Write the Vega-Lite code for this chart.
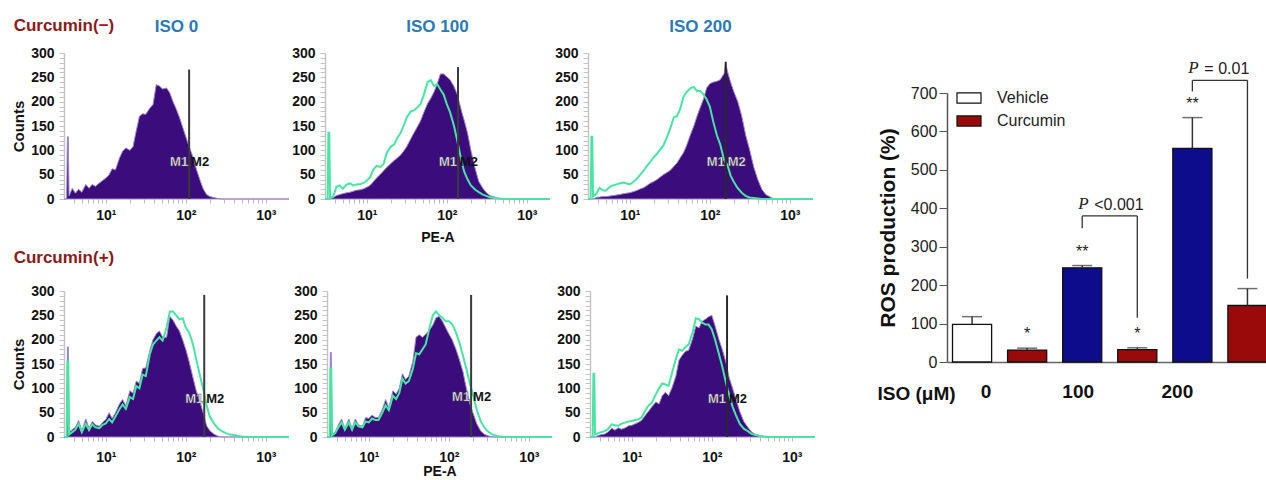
{
"$schema": "https://vega.github.io/schema/vega-lite/v6.json",
"padding": {"left": 11, "top": 17, "right": 0, "bottom": 0},
"config": {"font": "Liberation Sans", "view": {"stroke": null}, "axis": {"grid": false}, "title": {"font": "Liberation Sans"}},
"datasets": {
"hist": [
{"pe":3.02,"T1p":0,"T2p":0,"T2g":0,"T3p":0,"T3g":0,"B1p":0,"B1g":0,"B2p":0,"B2g":0,"B3p":0,"B3g":0},
{"pe":3.24,"T1p":0,"T2p":0,"T2g":0,"T3p":0,"T3g":0,"B1p":0,"B1g":0,"B2p":0,"B2g":0,"B3p":0,"B3g":0},
{"pe":3.31,"T1p":128,"T2p":0,"T2g":136,"T3p":0,"T3g":128,"B1p":185,"B1g":155,"B2p":174,"B2g":141,"B3p":0,"B3g":130},
{"pe":3.39,"T1p":128,"T2p":0,"T2g":136,"T3p":0,"T3g":128,"B1p":185,"B1g":155,"B2p":174,"B2g":141,"B3p":0,"B3g":130},
{"pe":3.47,"T1p":6,"T2p":0,"T2g":2,"T3p":0,"T3g":5,"B1p":10,"B1g":5,"B2p":5,"B2g":3,"B3p":0,"B3g":5},
{"pe":3.80,"T1p":22,"T2p":3,"T2g":5,"T3p":3,"T3g":10,"B1p":15,"B1g":10,"B2p":10,"B2g":8,"B3p":3,"B3g":8},
{"pe":4.17,"T1p":12,"T2p":7,"T2g":25,"T3p":4,"T3g":23,"B1p":20,"B1g":15,"B2p":25,"B2g":20,"B3p":5,"B3g":10},
{"pe":4.57,"T1p":20,"T2p":9,"T2g":28,"T3p":5,"T3g":18,"B1p":34,"B1g":27,"B2p":37,"B2g":30,"B3p":6,"B3g":12},
{"pe":5.01,"T1p":14,"T2p":11,"T2g":21,"T3p":5,"T3g":17,"B1p":13,"B1g":10,"B2p":17,"B2g":15,"B3p":10,"B3g":16},
{"pe":5.62,"T1p":30,"T2p":13,"T2g":30,"T3p":6,"T3g":25,"B1p":37,"B1g":27,"B2p":37,"B2g":30,"B3p":18,"B3g":26},
{"pe":6.17,"T1p":22,"T2p":14,"T2g":32,"T3p":7,"T3g":28,"B1p":18,"B1g":14,"B2p":17,"B2g":15,"B3p":14,"B3g":24},
{"pe":6.76,"T1p":30,"T2p":16,"T2g":28,"T3p":8,"T3g":30,"B1p":32,"B1g":26,"B2p":37,"B2g":30,"B3p":19,"B3g":23},
{"pe":7.41,"T1p":26,"T2p":18,"T2g":30,"T3p":9,"T3g":32,"B1p":25,"B1g":20,"B2p":25,"B2g":22,"B3p":16,"B3g":27},
{"pe":8.32,"T1p":33,"T2p":19,"T2g":31,"T3p":11,"T3g":34,"B1p":22,"B1g":18,"B2p":22,"B2g":20,"B3p":19,"B3g":30},
{"pe":9.12,"T1p":38,"T2p":21,"T2g":33,"T3p":12,"T3g":32,"B1p":30,"B1g":25,"B2p":40,"B2g":32,"B3p":23,"B3g":32},
{"pe":10,"T1p":43,"T2p":24,"T2g":38,"T3p":13,"T3g":30,"B1p":36,"B1g":28,"B2p":38,"B2g":30,"B3p":24,"B3g":33},
{"pe":11,"T1p":50,"T2p":28,"T2g":45,"T3p":15,"T3g":35,"B1p":50,"B1g":37,"B2p":45,"B2g":38,"B3p":27,"B3g":35},
{"pe":12,"T1p":62,"T2p":35,"T2g":60,"T3p":17,"T3g":40,"B1p":38,"B1g":30,"B2p":40,"B2g":35,"B3p":30,"B3g":36},
{"pe":13.2,"T1p":60,"T2p":43,"T2g":68,"T3p":20,"T3g":48,"B1p":50,"B1g":42,"B2p":40,"B2g":35,"B3p":34,"B3g":40},
{"pe":14.8,"T1p":84,"T2p":51,"T2g":66,"T3p":23,"T3g":58,"B1p":68,"B1g":57,"B2p":57,"B2g":50,"B3p":45,"B3g":55},
{"pe":16.2,"T1p":98,"T2p":58,"T2g":72,"T3p":27,"T3g":67,"B1p":77,"B1g":67,"B2p":77,"B2g":65,"B3p":53,"B3g":65},
{"pe":17.8,"T1p":105,"T2p":65,"T2g":95,"T3p":32,"T3g":75,"B1p":64,"B1g":58,"B2p":60,"B2g":55,"B3p":62,"B3g":70},
{"pe":20,"T1p":100,"T2p":73,"T2g":108,"T3p":36,"T3g":86,"B1p":95,"B1g":82,"B2p":95,"B2g":85,"B3p":72,"B3g":88},
{"pe":21.9,"T1p":108,"T2p":79,"T2g":112,"T3p":40,"T3g":93,"B1p":90,"B1g":78,"B2p":88,"B2g":78,"B3p":68,"B3g":100},
{"pe":24,"T1p":140,"T2p":84,"T2g":125,"T3p":45,"T3g":102,"B1p":115,"B1g":105,"B2p":100,"B2g":90,"B3p":85,"B3g":110},
{"pe":26.3,"T1p":170,"T2p":90,"T2g":135,"T3p":50,"T3g":110,"B1p":110,"B1g":100,"B2p":130,"B2g":120,"B3p":92,"B3g":108},
{"pe":28.8,"T1p":175,"T2p":98,"T2g":150,"T3p":54,"T3g":125,"B1p":141,"B1g":128,"B2p":118,"B2g":110,"B3p":85,"B3g":105},
{"pe":31.6,"T1p":174,"T2p":108,"T2g":168,"T3p":58,"T3g":142,"B1p":142,"B1g":125,"B2p":125,"B2g":115,"B3p":100,"B3g":130},
{"pe":35.5,"T1p":187,"T2p":124,"T2g":180,"T3p":67,"T3g":168,"B1p":178,"B1g":170,"B2p":155,"B2g":140,"B3p":125,"B3g":160},
{"pe":38.9,"T1p":194,"T2p":136,"T2g":182,"T3p":74,"T3g":170,"B1p":200,"B1g":190,"B2p":205,"B2g":172,"B3p":158,"B3g":180},
{"pe":42.7,"T1p":235,"T2p":148,"T2g":188,"T3p":85,"T3g":185,"B1p":212,"B1g":198,"B2p":210,"B2g":170,"B3p":168,"B3g":177},
{"pe":46.8,"T1p":232,"T2p":160,"T2g":195,"T3p":95,"T3g":210,"B1p":218,"B1g":205,"B2p":205,"B2g":180,"B3p":176,"B3g":185},
{"pe":51.3,"T1p":226,"T2p":177,"T2g":213,"T3p":110,"T3g":220,"B1p":205,"B1g":198,"B2p":211,"B2g":190,"B3p":178,"B3g":190},
{"pe":57.5,"T1p":228,"T2p":196,"T2g":240,"T3p":133,"T3g":228,"B1p":205,"B1g":225,"B2p":220,"B2g":225,"B3p":202,"B3g":215},
{"pe":63.1,"T1p":218,"T2p":207,"T2g":244,"T3p":150,"T3g":230,"B1p":248,"B1g":258,"B2p":230,"B2g":250,"B3p":228,"B3g":244},
{"pe":69.2,"T1p":200,"T2p":220,"T2g":232,"T3p":170,"T3g":222,"B1p":240,"B1g":258,"B2p":245,"B2g":258,"B3p":224,"B3g":242},
{"pe":75.9,"T1p":185,"T2p":237,"T2g":236,"T3p":188,"T3g":222,"B1p":228,"B1g":250,"B2p":248,"B2g":250,"B3p":238,"B3g":235},
{"pe":83.2,"T1p":168,"T2p":257,"T2g":225,"T3p":205,"T3g":215,"B1p":218,"B1g":242,"B2p":238,"B2g":245,"B3p":242,"B3g":231},
{"pe":91.2,"T1p":148,"T2p":257,"T2g":215,"T3p":228,"T3g":205,"B1p":200,"B1g":244,"B2p":225,"B2g":238,"B3p":247,"B3g":231},
{"pe":100,"T1p":128,"T2p":251,"T2g":195,"T3p":237,"T3g":190,"B1p":180,"B1g":225,"B2p":212,"B2g":238,"B3p":250,"B3g":221},
{"pe":110,"T1p":108,"T2p":245,"T2g":178,"T3p":240,"T3g":160,"B1p":155,"B1g":215,"B2p":200,"B2g":232,"B3p":228,"B3g":200},
{"pe":123,"T1p":86,"T2p":231,"T2g":150,"T3p":242,"T3g":130,"B1p":122,"B1g":190,"B2p":180,"B2g":215,"B3p":200,"B3g":170},
{"pe":135,"T1p":62,"T2p":215,"T2g":120,"T3p":245,"T3g":112,"B1p":95,"B1g":160,"B2p":160,"B2g":195,"B3p":180,"B3g":145},
{"pe":151,"T1p":38,"T2p":184,"T2g":82,"T3p":258,"T3g":80,"B1p":72,"B1g":125,"B2p":133,"B2g":166,"B3p":152,"B3g":110},
{"pe":158,"T1p":29,"T2p":172,"T2g":68,"T3p":280,"T3g":75,"B1p":60,"B1g":111,"B2p":116,"B2g":153,"B3p":136,"B3g":97},
{"pe":166,"T1p":20,"T2p":160,"T2g":55,"T3p":262,"T3g":70,"B1p":48,"B1g":97,"B2p":100,"B2g":140,"B3p":120,"B3g":85},
{"pe":182,"T1p":9,"T2p":135,"T2g":40,"T3p":240,"T3g":48,"B1p":23,"B1g":64,"B2p":70,"B2g":112,"B3p":100,"B3g":62},
{"pe":200,"T1p":5,"T2p":100,"T2g":28,"T3p":220,"T3g":35,"B1p":13,"B1g":42,"B2p":50,"B2g":88,"B3p":78,"B3g":45},
{"pe":224,"T1p":3,"T2p":65,"T2g":20,"T3p":200,"T3g":22,"B1p":6,"B1g":28,"B2p":27,"B2g":55,"B3p":52,"B3g":27},
{"pe":251,"T1p":1,"T2p":36,"T2g":14,"T3p":170,"T3g":13,"B1p":2,"B1g":18,"B2p":12,"B2g":32,"B3p":32,"B3g":17},
{"pe":282,"T1p":0,"T2p":22,"T2g":9,"T3p":130,"T3g":6,"B1p":0,"B1g":12,"B2p":5,"B2g":18,"B3p":20,"B3g":12},
{"pe":316,"T1p":0,"T2p":12,"T2g":6,"T3p":100,"T3g":3,"B1p":0,"B1g":8,"B2p":2,"B2g":10,"B3p":10,"B3g":6},
{"pe":355,"T1p":0,"T2p":6,"T2g":3,"T3p":65,"T3g":2,"B1p":0,"B1g":5,"B2p":0,"B2g":5,"B3p":5,"B3g":4},
{"pe":398,"T1p":0,"T2p":4,"T2g":2,"T3p":40,"T3g":1,"B1p":0,"B1g":4,"B2p":0,"B2g":2,"B3p":3,"B3g":2},
{"pe":447,"T1p":0,"T2p":1,"T2g":1,"T3p":20,"T3g":0,"B1p":0,"B1g":2,"B2p":0,"B2g":1,"B3p":1,"B3g":1},
{"pe":501,"T1p":0,"T2p":0,"T2g":0,"T3p":9,"T3g":0,"B1p":0,"B1g":1,"B2p":0,"B2g":0,"B3p":0,"B3g":0},
{"pe":631,"T1p":0,"T2p":0,"T2g":0,"T3p":0,"T3g":0,"B1p":0,"B1g":0,"B2p":0,"B2g":0,"B3p":0,"B3g":0},
{"pe":1950,"T1p":0,"T2p":0,"T2g":0,"T3p":0,"T3g":0,"B1p":0,"B1g":0,"B2p":0,"B2g":0,"B3p":0,"B3g":0}
],
"gates": [
{"panel":"T1","gate":110,"top":266,"labelY":76},
{"panel":"T2","gate":138,"top":271,"labelY":76},
{"panel":"T3","gate":158,"top":282,"labelY":76},
{"panel":"B1","gate":170,"top":292,"labelY":78},
{"panel":"B2","gate":190,"top":292,"labelY":82},
{"panel":"B3","gate":155,"top":291,"labelY":78}
],
"bars": [
{"id":"V0","iso":"0","key":"Vehicle","mean":98,"err":118,"star":""},
{"id":"C0","iso":"0","key":"Curcumin","mean":31,"err":36,"star":"*"},
{"id":"V100","iso":"100","key":"Vehicle + ISO","mean":245,"err":251,"star":"**"},
{"id":"C100","iso":"100","key":"Curcumin","mean":32,"err":37,"star":"*"},
{"id":"V200","iso":"200","key":"Vehicle + ISO","mean":556,"err":636,"star":"**"},
{"id":"C200","iso":"200","key":"Curcumin","mean":147,"err":191,"star":""}
],
"brackets": [
{"from":"V100","to":"C100","fromY":348,"toY":115,"top":380,"label":"<0.001"},
{"from":"V200","to":"C200","fromY":704,"toY":217,"top":733,"label":"= 0.01"}
]
},
"hconcat": [
{
"vconcat": [
{
"title": {"text": "Curcumin(−)", "anchor": "start", "dx": 2, "color": "#8b1a1a", "fontSize": 17, "fontWeight": "bold", "offset": -17},
"spacing": 0,
"hconcat": [
{"width": 225, "height": 146,
 "title": {"text": "ISO  0", "frame": "group", "color": "#2a7ab8", "fontSize": 17, "fontWeight": "bold", "offset": 10},
 "resolve": {"axis": {"x": "independent", "y": "independent"}},
 "layer": [
  {"data": {"name": "hist"}, "mark": {"type": "area", "color": "#3b0d7c", "stroke": "#9e86cc", "strokeWidth": 1},
   "encoding": {
    "x": {"field": "pe", "type": "quantitative", "scale": {"type": "log", "domain": [3, 1950], "nice": false},
          "axis": {"values": [4,5,6,7,8,9,10,20,30,40,50,60,70,80,90,100,200,300,400,500,600,700,800,900,1000], "labelExpr": "datum.value==10?'10¹':datum.value==100?'10²':datum.value==1000?'10³':''", "domain": false, "tickSize": 4, "tickColor": "#bbbbbb", "labelFontSize": 14, "labelFontWeight": "bold", "labelColor": "#111", "labelPadding": 5, "labelOverlap": false, "labelBound": false, "labelFlush": false, "title": null}},
    "y": {"field": "T1p", "type": "quantitative", "scale": {"domain": [0, 300], "nice": false},
          "axis": {"values": [0,10,20,30,40,50,60,70,80,90,100,110,120,130,140,150,160,170,180,190,200,210,220,230,240,250,260,270,280,290,300], "labelExpr": "datum.value==0||datum.value==50||datum.value==100||datum.value==150||datum.value==200||datum.value==250||datum.value==300 ? datum.label : ''", "tickSize": 5, "tickColor": "#c4c4c4", "domainColor": "#c4c4c4", "domainWidth": 1.5, "labelFontSize": 14, "labelFontWeight": "bold", "labelColor": "#111", "labelPadding": 5, "labelOverlap": false, "labelBound": false, "labelFlush": false, "title": "Counts", "titleFontSize": 15, "titleFontWeight": "bold", "titleColor": "#111", "titlePadding": 4}}}},
  {"data": {"name": "gates"}, "transform": [{"filter": "datum.panel == 'T1'"}], "mark": {"type": "rule", "color": "#3a3a3a", "strokeWidth": 2},
   "encoding": {"x": {"field": "gate", "type": "quantitative", "axis": null}, "y": {"field": "top", "type": "quantitative", "axis": null}, "y2": {"datum": 0}}},
  {"data": {"name": "gates"}, "transform": [{"filter": "datum.panel == 'T1'"}], "mark": {"type": "text", "text": "M1", "align": "right", "dx": -1, "fontSize": 13, "fontWeight": "bold", "fill": "#ffffff", "stroke": "#444", "strokeWidth": 0.5},
   "encoding": {"x": {"field": "gate", "type": "quantitative", "axis": null}, "y": {"field": "labelY", "type": "quantitative", "axis": null}}},
  {"data": {"name": "gates"}, "transform": [{"filter": "datum.panel == 'T1'"}], "mark": {"type": "text", "text": "M2", "align": "left", "dx": 2, "fontSize": 13, "fontWeight": "bold", "fill": "#111"},
   "encoding": {"x": {"field": "gate", "type": "quantitative", "axis": null}, "y": {"field": "labelY", "type": "quantitative", "axis": null}}}
 ]},
{"width": 225, "height": 146,
 "title": {"text": "ISO 100", "frame": "group", "color": "#2a7ab8", "fontSize": 17, "fontWeight": "bold", "offset": 10},
 "resolve": {"axis": {"x": "independent", "y": "independent"}},
 "layer": [
  {"data": {"name": "hist"}, "mark": {"type": "area", "color": "#3b0d7c", "stroke": "#9e86cc", "strokeWidth": 1},
   "encoding": {
    "x": {"field": "pe", "type": "quantitative", "scale": {"type": "log", "domain": [3, 1950], "nice": false},
          "axis": {"values": [4,5,6,7,8,9,10,20,30,40,50,60,70,80,90,100,200,300,400,500,600,700,800,900,1000], "labelExpr": "datum.value==10?'10¹':datum.value==100?'10²':datum.value==1000?'10³':''", "domain": false, "tickSize": 4, "tickColor": "#bbbbbb", "labelFontSize": 14, "labelFontWeight": "bold", "labelColor": "#111", "labelPadding": 5, "labelOverlap": false, "labelBound": false, "labelFlush": false, "title": "PE-A", "titleFontSize": 14, "titleFontWeight": "bold", "titleColor": "#111", "titlePadding": 8}},
    "y": {"field": "T2p", "type": "quantitative", "scale": {"domain": [0, 300], "nice": false},
          "axis": {"values": [0,10,20,30,40,50,60,70,80,90,100,110,120,130,140,150,160,170,180,190,200,210,220,230,240,250,260,270,280,290,300], "labelExpr": "datum.value==0||datum.value==50||datum.value==100||datum.value==150||datum.value==200||datum.value==250||datum.value==300 ? datum.label : ''", "tickSize": 5, "tickColor": "#c4c4c4", "domainColor": "#c4c4c4", "domainWidth": 1.5, "labelFontSize": 14, "labelFontWeight": "bold", "labelColor": "#111", "labelPadding": 5, "labelOverlap": false, "labelBound": false, "labelFlush": false, "title": null}}}},
  {"data": {"name": "hist"}, "mark": {"type": "line", "color": "#46e6a2", "strokeWidth": 2},
   "encoding": {"x": {"field": "pe", "type": "quantitative", "axis": null}, "y": {"field": "T2g", "type": "quantitative", "axis": null}}},
  {"data": {"name": "gates"}, "transform": [{"filter": "datum.panel == 'T2'"}], "mark": {"type": "rule", "color": "#3a3a3a", "strokeWidth": 2},
   "encoding": {"x": {"field": "gate", "type": "quantitative", "axis": null}, "y": {"field": "top", "type": "quantitative", "axis": null}, "y2": {"datum": 0}}},
  {"data": {"name": "gates"}, "transform": [{"filter": "datum.panel == 'T2'"}], "mark": {"type": "text", "text": "M1", "align": "right", "dx": -1, "fontSize": 13, "fontWeight": "bold", "fill": "#ffffff", "stroke": "#444", "strokeWidth": 0.5},
   "encoding": {"x": {"field": "gate", "type": "quantitative", "axis": null}, "y": {"field": "labelY", "type": "quantitative", "axis": null}}},
  {"data": {"name": "gates"}, "transform": [{"filter": "datum.panel == 'T2'"}], "mark": {"type": "text", "text": "M2", "align": "left", "dx": 2, "fontSize": 13, "fontWeight": "bold", "fill": "#111"},
   "encoding": {"x": {"field": "gate", "type": "quantitative", "axis": null}, "y": {"field": "labelY", "type": "quantitative", "axis": null}}}
 ]},
{"width": 225, "height": 146,
 "title": {"text": "ISO 200", "frame": "group", "color": "#2a7ab8", "fontSize": 17, "fontWeight": "bold", "offset": 10},
 "resolve": {"axis": {"x": "independent", "y": "independent"}},
 "layer": [
  {"data": {"name": "hist"}, "mark": {"type": "area", "color": "#3b0d7c", "stroke": "#9e86cc", "strokeWidth": 1},
   "encoding": {
    "x": {"field": "pe", "type": "quantitative", "scale": {"type": "log", "domain": [3, 1950], "nice": false},
          "axis": {"values": [4,5,6,7,8,9,10,20,30,40,50,60,70,80,90,100,200,300,400,500,600,700,800,900,1000], "labelExpr": "datum.value==10?'10¹':datum.value==100?'10²':datum.value==1000?'10³':''", "domain": false, "tickSize": 4, "tickColor": "#bbbbbb", "labelFontSize": 14, "labelFontWeight": "bold", "labelColor": "#111", "labelPadding": 5, "labelOverlap": false, "labelBound": false, "labelFlush": false, "title": null}},
    "y": {"field": "T3p", "type": "quantitative", "scale": {"domain": [0, 300], "nice": false},
          "axis": {"values": [0,10,20,30,40,50,60,70,80,90,100,110,120,130,140,150,160,170,180,190,200,210,220,230,240,250,260,270,280,290,300], "labelExpr": "datum.value==0||datum.value==50||datum.value==100||datum.value==150||datum.value==200||datum.value==250||datum.value==300 ? datum.label : ''", "tickSize": 5, "tickColor": "#c4c4c4", "domainColor": "#c4c4c4", "domainWidth": 1.5, "labelFontSize": 14, "labelFontWeight": "bold", "labelColor": "#111", "labelPadding": 5, "labelOverlap": false, "labelBound": false, "labelFlush": false, "title": null}}}},
  {"data": {"name": "hist"}, "mark": {"type": "line", "color": "#46e6a2", "strokeWidth": 2},
   "encoding": {"x": {"field": "pe", "type": "quantitative", "axis": null}, "y": {"field": "T3g", "type": "quantitative", "axis": null}}},
  {"data": {"name": "gates"}, "transform": [{"filter": "datum.panel == 'T3'"}], "mark": {"type": "rule", "color": "#2a2a2a", "strokeWidth": 2},
   "encoding": {"x": {"field": "gate", "type": "quantitative", "axis": null}, "y": {"field": "top", "type": "quantitative", "axis": null}, "y2": {"datum": 0}}},
  {"data": {"name": "gates"}, "transform": [{"filter": "datum.panel == 'T3'"}], "mark": {"type": "text", "text": "M1", "align": "right", "dx": -1, "fontSize": 13, "fontWeight": "bold", "fill": "#ffffff", "stroke": "#444", "strokeWidth": 0.5},
   "encoding": {"x": {"field": "gate", "type": "quantitative", "axis": null}, "y": {"field": "labelY", "type": "quantitative", "axis": null}}},
  {"data": {"name": "gates"}, "transform": [{"filter": "datum.panel == 'T3'"}], "mark": {"type": "text", "text": "M2", "align": "left", "dx": 2, "fontSize": 13, "fontWeight": "bold", "fill": "#ffffff", "stroke": "#444", "strokeWidth": 0.5},
   "encoding": {"x": {"field": "gate", "type": "quantitative", "axis": null}, "y": {"field": "labelY", "type": "quantitative", "axis": null}}}
 ]}
]
},
{
"title": {"text": "Curcumin(+)", "anchor": "start", "dx": 2, "color": "#8b1a1a", "fontSize": 17, "fontWeight": "bold", "offset": 17},
"spacing": 0,
"hconcat": [
{"width": 225, "height": 146,
 "resolve": {"axis": {"x": "independent", "y": "independent"}},
 "layer": [
  {"data": {"name": "hist"}, "mark": {"type": "area", "color": "#3b0d7c", "stroke": "#9e86cc", "strokeWidth": 1},
   "encoding": {
    "x": {"field": "pe", "type": "quantitative", "scale": {"type": "log", "domain": [3, 1950], "nice": false},
          "axis": {"values": [4,5,6,7,8,9,10,20,30,40,50,60,70,80,90,100,200,300,400,500,600,700,800,900,1000], "labelExpr": "datum.value==10?'10¹':datum.value==100?'10²':datum.value==1000?'10³':''", "domain": false, "tickSize": 4, "tickColor": "#bbbbbb", "labelFontSize": 14, "labelFontWeight": "bold", "labelColor": "#111", "labelPadding": 9, "labelOverlap": false, "labelBound": false, "labelFlush": false, "title": null}},
    "y": {"field": "B1p", "type": "quantitative", "scale": {"domain": [0, 300], "nice": false},
          "axis": {"values": [0,10,20,30,40,50,60,70,80,90,100,110,120,130,140,150,160,170,180,190,200,210,220,230,240,250,260,270,280,290,300], "labelExpr": "datum.value==0||datum.value==50||datum.value==100||datum.value==150||datum.value==200||datum.value==250||datum.value==300 ? datum.label : ''", "tickSize": 5, "tickColor": "#c4c4c4", "domainColor": "#c4c4c4", "domainWidth": 1.5, "labelFontSize": 14, "labelFontWeight": "bold", "labelColor": "#111", "labelPadding": 5, "labelOverlap": false, "labelBound": false, "labelFlush": false, "title": "Counts", "titleFontSize": 15, "titleFontWeight": "bold", "titleColor": "#111", "titlePadding": 4}}}},
  {"data": {"name": "hist"}, "mark": {"type": "line", "color": "#46e6a2", "strokeWidth": 2},
   "encoding": {"x": {"field": "pe", "type": "quantitative", "axis": null}, "y": {"field": "B1g", "type": "quantitative", "axis": null}}},
  {"data": {"name": "gates"}, "transform": [{"filter": "datum.panel == 'B1'"}], "mark": {"type": "rule", "color": "#3a3a3a", "strokeWidth": 2},
   "encoding": {"x": {"field": "gate", "type": "quantitative", "axis": null}, "y": {"field": "top", "type": "quantitative", "axis": null}, "y2": {"datum": 0}}},
  {"data": {"name": "gates"}, "transform": [{"filter": "datum.panel == 'B1'"}], "mark": {"type": "text", "text": "M1", "align": "right", "dx": -1, "fontSize": 13, "fontWeight": "bold", "fill": "#ffffff", "stroke": "#444", "strokeWidth": 0.5},
   "encoding": {"x": {"field": "gate", "type": "quantitative", "axis": null}, "y": {"field": "labelY", "type": "quantitative", "axis": null}}},
  {"data": {"name": "gates"}, "transform": [{"filter": "datum.panel == 'B1'"}], "mark": {"type": "text", "text": "M2", "align": "left", "dx": 2, "fontSize": 13, "fontWeight": "bold", "fill": "#111"},
   "encoding": {"x": {"field": "gate", "type": "quantitative", "axis": null}, "y": {"field": "labelY", "type": "quantitative", "axis": null}}}
 ]},
{"width": 225, "height": 146,
 "resolve": {"axis": {"x": "independent", "y": "independent"}},
 "layer": [
  {"data": {"name": "hist"}, "mark": {"type": "area", "color": "#3b0d7c", "stroke": "#9e86cc", "strokeWidth": 1},
   "encoding": {
    "x": {"field": "pe", "type": "quantitative", "scale": {"type": "log", "domain": [3, 1950], "nice": false},
          "axis": {"values": [4,5,6,7,8,9,10,20,30,40,50,60,70,80,90,100,200,300,400,500,600,700,800,900,1000], "labelExpr": "datum.value==10?'10¹':datum.value==100?'10²':datum.value==1000?'10³':''", "domain": false, "tickSize": 4, "tickColor": "#bbbbbb", "labelFontSize": 14, "labelFontWeight": "bold", "labelColor": "#111", "labelPadding": 9, "labelOverlap": false, "labelBound": false, "labelFlush": false, "title": "PE-A", "titleFontSize": 14, "titleFontWeight": "bold", "titleColor": "#111", "titlePadding": 0}},
    "y": {"field": "B2p", "type": "quantitative", "scale": {"domain": [0, 300], "nice": false},
          "axis": {"values": [0,10,20,30,40,50,60,70,80,90,100,110,120,130,140,150,160,170,180,190,200,210,220,230,240,250,260,270,280,290,300], "labelExpr": "datum.value==0||datum.value==50||datum.value==100||datum.value==150||datum.value==200||datum.value==250||datum.value==300 ? datum.label : ''", "tickSize": 5, "tickColor": "#c4c4c4", "domainColor": "#c4c4c4", "domainWidth": 1.5, "labelFontSize": 14, "labelFontWeight": "bold", "labelColor": "#111", "labelPadding": 5, "labelOverlap": false, "labelBound": false, "labelFlush": false, "title": null}}}},
  {"data": {"name": "hist"}, "mark": {"type": "line", "color": "#46e6a2", "strokeWidth": 2},
   "encoding": {"x": {"field": "pe", "type": "quantitative", "axis": null}, "y": {"field": "B2g", "type": "quantitative", "axis": null}}},
  {"data": {"name": "gates"}, "transform": [{"filter": "datum.panel == 'B2'"}], "mark": {"type": "rule", "color": "#3a3a3a", "strokeWidth": 2},
   "encoding": {"x": {"field": "gate", "type": "quantitative", "axis": null}, "y": {"field": "top", "type": "quantitative", "axis": null}, "y2": {"datum": 0}}},
  {"data": {"name": "gates"}, "transform": [{"filter": "datum.panel == 'B2'"}], "mark": {"type": "text", "text": "M1", "align": "right", "dx": -1, "fontSize": 13, "fontWeight": "bold", "fill": "#ffffff", "stroke": "#444", "strokeWidth": 0.5},
   "encoding": {"x": {"field": "gate", "type": "quantitative", "axis": null}, "y": {"field": "labelY", "type": "quantitative", "axis": null}}},
  {"data": {"name": "gates"}, "transform": [{"filter": "datum.panel == 'B2'"}], "mark": {"type": "text", "text": "M2", "align": "left", "dx": 2, "fontSize": 13, "fontWeight": "bold", "fill": "#111"},
   "encoding": {"x": {"field": "gate", "type": "quantitative", "axis": null}, "y": {"field": "labelY", "type": "quantitative", "axis": null}}}
 ]},
{"width": 225, "height": 146,
 "resolve": {"axis": {"x": "independent", "y": "independent"}},
 "layer": [
  {"data": {"name": "hist"}, "mark": {"type": "area", "color": "#3b0d7c", "stroke": "#9e86cc", "strokeWidth": 1},
   "encoding": {
    "x": {"field": "pe", "type": "quantitative", "scale": {"type": "log", "domain": [3, 1950], "nice": false},
          "axis": {"values": [4,5,6,7,8,9,10,20,30,40,50,60,70,80,90,100,200,300,400,500,600,700,800,900,1000], "labelExpr": "datum.value==10?'10¹':datum.value==100?'10²':datum.value==1000?'10³':''", "domain": false, "tickSize": 4, "tickColor": "#bbbbbb", "labelFontSize": 14, "labelFontWeight": "bold", "labelColor": "#111", "labelPadding": 9, "labelOverlap": false, "labelBound": false, "labelFlush": false, "title": null}},
    "y": {"field": "B3p", "type": "quantitative", "scale": {"domain": [0, 300], "nice": false},
          "axis": {"values": [0,10,20,30,40,50,60,70,80,90,100,110,120,130,140,150,160,170,180,190,200,210,220,230,240,250,260,270,280,290,300], "labelExpr": "datum.value==0||datum.value==50||datum.value==100||datum.value==150||datum.value==200||datum.value==250||datum.value==300 ? datum.label : ''", "tickSize": 5, "tickColor": "#c4c4c4", "domainColor": "#c4c4c4", "domainWidth": 1.5, "labelFontSize": 14, "labelFontWeight": "bold", "labelColor": "#111", "labelPadding": 5, "labelOverlap": false, "labelBound": false, "labelFlush": false, "title": null}}}},
  {"data": {"name": "hist"}, "mark": {"type": "line", "color": "#46e6a2", "strokeWidth": 2},
   "encoding": {"x": {"field": "pe", "type": "quantitative", "axis": null}, "y": {"field": "B3g", "type": "quantitative", "axis": null}}},
  {"data": {"name": "gates"}, "transform": [{"filter": "datum.panel == 'B3'"}], "mark": {"type": "rule", "color": "#2a2a2a", "strokeWidth": 2},
   "encoding": {"x": {"field": "gate", "type": "quantitative", "axis": null}, "y": {"field": "top", "type": "quantitative", "axis": null}, "y2": {"datum": 0}}},
  {"data": {"name": "gates"}, "transform": [{"filter": "datum.panel == 'B3'"}], "mark": {"type": "text", "text": "M1", "align": "right", "dx": -1, "fontSize": 13, "fontWeight": "bold", "fill": "#ffffff", "stroke": "#444", "strokeWidth": 0.5},
   "encoding": {"x": {"field": "gate", "type": "quantitative", "axis": null}, "y": {"field": "labelY", "type": "quantitative", "axis": null}}},
  {"data": {"name": "gates"}, "transform": [{"filter": "datum.panel == 'B3'"}], "mark": {"type": "text", "text": "M2", "align": "left", "dx": 2, "fontSize": 13, "fontWeight": "bold", "fill": "#111"},
   "encoding": {"x": {"field": "gate", "type": "quantitative", "axis": null}, "y": {"field": "labelY", "type": "quantitative", "axis": null}}}
 ]}
]
}
],
"spacing": 5
},
{
"vconcat": [
{"width": 320, "height": 6, "data": {"values": []}, "mark": "point"},
{
"width": 320, "height": 269,
"resolve": {"axis": {"x": "independent", "y": "independent"}},
"layer": [
 {"data": {"name": "bars"}, "mark": {"type": "bar", "stroke": "#111", "strokeWidth": 1.3},
  "encoding": {
   "x": {"field": "id", "type": "nominal", "sort": null, "scale": {"domain": ["V0","C0","V100","C100","V200","C200"], "paddingInner": 0.29, "paddingOuter": 0.05, "align": 1},
         "axis": {"title": "ISO (μM)", "titleX": -70, "titleY": 31, "titleAlign": "left", "titleBaseline": "middle", "titleAngle": 0, "titleFontSize": 19, "titleFontWeight": "bold", "titleColor": "#111", "labelExpr": "datum.value == 'V0' ? '0' : datum.value == 'V100' ? '100' : datum.value == 'V200' ? '200' : ''", "labelAngle": 0, "labelFontSize": 19, "labelFontWeight": "bold", "labelColor": "#111", "labelPadding": 20, "labelOffset": {"condition": [{"test": "datum.value == 'V0'", "value": 14}, {"test": "datum.value == 'V200'", "value": -15}], "value": -4}, "labelOverlap": false, "ticks": false, "domainColor": "#666", "domainWidth": 1.5}},
   "y": {"field": "mean", "type": "quantitative", "scale": {"domain": [0, 700], "nice": false},
         "axis": {"values": [0,100,200,300,400,500,600,700], "title": "ROS production (%)", "titleFontSize": 21, "titleFontWeight": "bold", "titleColor": "#111", "titlePadding": 12, "labelFontSize": 16, "labelColor": "#222", "labelPadding": 2, "labelOverlap": false, "tickSize": 8, "tickColor": "#555", "domainColor": "#555", "domainWidth": 1.5}},
   "color": {"field": "key", "type": "nominal", "scale": {"domain": ["Vehicle", "Curcumin", "Vehicle + ISO"], "range": ["#ffffff", "#9b0a0a", "#0c0c8c"]},
         "legend": {"orient": "none", "legendX": 892, "legendY": 32, "padding": 0, "title": null, "values": ["Vehicle", "Curcumin"], "symbolType": "M-1,-0.42H1V0.42H-1Z", "symbolSize": 576, "symbolStrokeColor": "#111", "symbolStrokeWidth": 1.2, "symbolOpacity": 1, "labelFontSize": 16, "labelColor": "#222", "labelOffset": 15, "rowPadding": 2}}
  }},
 {"data": {"name": "bars"}, "mark": {"type": "rule", "color": "#333", "strokeWidth": 1.5},
  "encoding": {"x": {"field": "id", "type": "nominal", "sort": null, "axis": null}, "y": {"field": "mean", "type": "quantitative", "axis": null}, "y2": {"field": "err"}}},
 {"data": {"name": "bars"}, "mark": {"type": "tick", "color": "#333", "thickness": 1.5, "size": 20},
  "encoding": {"x": {"field": "id", "type": "nominal", "sort": null, "axis": null}, "y": {"field": "err", "type": "quantitative", "axis": null}}},
 {"data": {"name": "bars"}, "mark": {"type": "text", "baseline": "bottom", "dy": -6, "fontSize": 16, "color": "#222"},
  "encoding": {"x": {"field": "id", "type": "nominal", "sort": null, "axis": null}, "y": {"field": "err", "type": "quantitative", "axis": null}, "text": {"field": "star"}}},
 {"data": {"name": "brackets"}, "mark": {"type": "rule", "color": "#333", "strokeWidth": 1.3},
  "encoding": {"x": {"field": "from", "type": "nominal", "axis": null}, "y": {"field": "fromY", "type": "quantitative", "axis": null}, "y2": {"field": "top"}}},
 {"data": {"name": "brackets"}, "mark": {"type": "rule", "color": "#333", "strokeWidth": 1.3},
  "encoding": {"x": {"field": "to", "type": "nominal", "axis": null}, "y": {"field": "toY", "type": "quantitative", "axis": null}, "y2": {"field": "top"}}},
 {"data": {"name": "brackets"}, "mark": {"type": "rule", "color": "#333", "strokeWidth": 1.3},
  "encoding": {"x": {"field": "from", "type": "nominal", "axis": null}, "x2": {"field": "to"}, "y": {"field": "top", "type": "quantitative", "axis": null}}},
 {"data": {"name": "brackets"}, "mark": {"type": "text", "text": "P", "font": "Liberation Serif", "fontStyle": "italic", "fontSize": 17, "align": "left", "baseline": "bottom", "dx": -4, "dy": -3, "color": "#222"},
  "encoding": {"x": {"field": "from", "type": "nominal", "axis": null}, "y": {"field": "top", "type": "quantitative", "axis": null}}},
 {"data": {"name": "brackets"}, "mark": {"type": "text", "fontSize": 16, "align": "left", "baseline": "bottom", "dx": 12, "dy": -3, "color": "#222"},
  "encoding": {"x": {"field": "from", "type": "nominal", "axis": null}, "y": {"field": "top", "type": "quantitative", "axis": null}, "text": {"field": "label"}}}
]
}
],
"spacing": 0
}
],
"spacing": 58
}
